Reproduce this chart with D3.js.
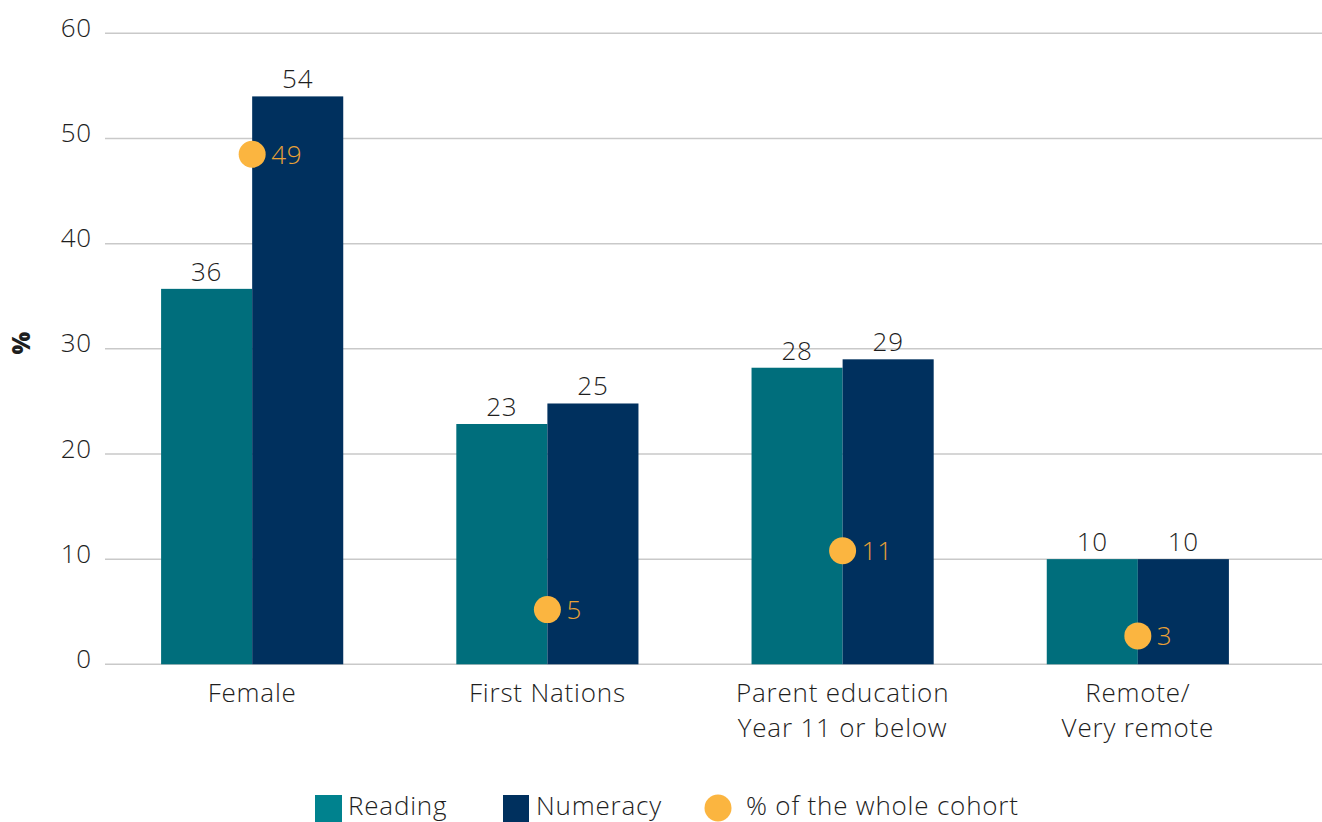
<!DOCTYPE html>
<html><head><meta charset="utf-8">
<script src="https://cdn.jsdelivr.net/npm/d3@7"></script>
<style>body{margin:0;background:#fff}svg{display:block}text{font-family:"Open Sans",Lato,sans-serif;font-weight:300;letter-spacing:0.8px}</style>
</head><body><svg id="c" width="1322" height="822"></svg>
<script>
const categories = [["Female"], ["First Nations"], ["Parent education", "Year 11 or below"], ["Remote/", "Very remote"]];
const readingValues = [35.7, 22.85, 28.2, 10.0];
const numeracyValues = [54.0, 24.8, 29.0, 10.0];
const cohortValues = [48.5, 5.2, 10.8, 2.7];
const yTicks = [0, 10, 20, 30, 40, 50, 60];
const seriesNames = ["Reading", "Numeracy", "% of the whole cohort"];

const colReading = "#006E7C", colNumeracy = "#00305E", colDot = "#FBB540", colDotText = "#E9A136", colText = "#1e1e1e";
const FS = 26;
const svg = d3.select("#c");
const x = d3.scaleBand().domain(d3.range(categories.length)).range([105, 1285]).paddingInner(0.383).paddingOuter(0.19);
const y = d3.scaleLinear().domain([0, 60]).range([664.3, 33.3]);
const sub = d3.scaleBand().domain([0, 1]).range([0, x.bandwidth()]);

// gridlines
svg.append("g").selectAll("line").data(yTicks).join("line")
  .attr("x1", 105).attr("x2", 1322).attr("y1", d => y(d)).attr("y2", d => y(d))
  .attr("stroke", "#c9c9c9").attr("stroke-width", 1.5);
// y ticks
const yAxis = svg.append("g").attr("transform", "translate(92,0)")
  .call(d3.axisLeft(y).tickValues(yTicks).tickSize(0).tickPadding(0));
yAxis.select(".domain").remove();
yAxis.selectAll("text").attr("font-size", FS).attr("fill", colText).attr("font-family", null).attr("dy", "0.12em");
svg.append("text").attr("transform", "translate(30,343) rotate(-90)").attr("text-anchor", "middle")
  .attr("font-size", 24).style("font-weight", 800).style("letter-spacing", "0px").attr("fill", colText).text("%");

const fmt = d3.format(".0f");
const series = [readingValues, numeracyValues];
const cols = [colReading, colNumeracy];
series.forEach((vals, s) => {
  const g = svg.append("g");
  g.selectAll("rect").data(vals).join("rect")
    .attr("x", (d, i) => x(i) + sub(s)).attr("width", sub.bandwidth())
    .attr("y", d => y(d)).attr("height", d => y(0) - y(d)).attr("fill", cols[s]);
  g.selectAll("text").data(vals).join("text")
    .attr("x", (d, i) => x(i) + sub(s) + sub.bandwidth() / 2).attr("y", d => y(d) - 8)
    .attr("text-anchor", "middle").attr("font-size", FS).attr("fill", colText).text(d => fmt(d));
});
// dots
const dg = svg.append("g");
dg.selectAll("circle").data(cohortValues).join("circle")
  .attr("cx", (d, i) => x(i) + x.bandwidth() / 2).attr("cy", d => y(d)).attr("r", 13.5).attr("fill", colDot);
dg.selectAll("text").data(cohortValues).join("text")
  .attr("x", (d, i) => x(i) + x.bandwidth() / 2 + 19).attr("y", d => y(d)).attr("dy", "0.36em")
  .attr("font-size", FS).attr("fill", colDotText).text(d => fmt(d));

// category labels
const cg = svg.append("g");
categories.forEach((lines, i) => {
  const t = cg.append("text").attr("text-anchor", "middle").attr("font-size", FS).attr("fill", colText);
  lines.forEach((l, j) => t.append("tspan").attr("x", x(i) + x.bandwidth() / 2).attr("y", 702 + j * 35).text(l));
});

// legend
const lg = svg.append("g").attr("font-size", FS).attr("fill", colText);
lg.append("rect").attr("x", 315).attr("y", 795).attr("width", 27).attr("height", 27).attr("fill", "#00828E");
lg.append("text").attr("x", 348).attr("y", 815).attr("fill", colText).text(seriesNames[0]);
lg.append("rect").attr("x", 503).attr("y", 795).attr("width", 26).attr("height", 27).attr("fill", colNumeracy);
lg.append("text").attr("x", 536).attr("y", 815).attr("fill", colText).text(seriesNames[1]);
lg.append("circle").attr("cx", 718).attr("cy", 808).attr("r", 13.5).attr("fill", colDot);
lg.append("text").attr("x", 746).attr("y", 815).attr("fill", colText).text(seriesNames[2]);
</script></body></html>
